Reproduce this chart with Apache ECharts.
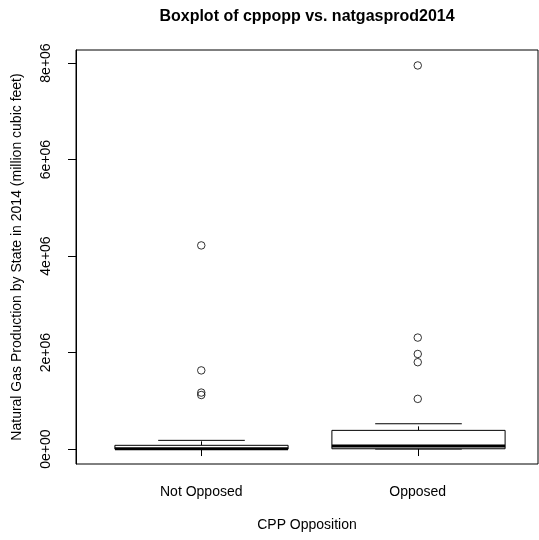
<!DOCTYPE html>
<html>
<head>
<meta charset="utf-8">
<script src="https://cdn.jsdelivr.net/npm/echarts@6/dist/echarts.min.js"></script>
<style>
    html, body { margin: 0; padding: 0; background: #fff; }
    #chart { width: 539px; height: 540px; }
</style>
</head>
<body>
<div id="chart"></div>
<script>
    // groups on the x axis
    const categories = ['Not Opposed', 'Opposed'];
    // [min, Q1, median, Q3, max] per group
    const boxStats = [
        [0, 1000, 5000, 77000, 180000],
        [0, 6000, 62000, 387000, 524000]
    ];
    // points beyond the whiskers
    const outliersNotOpposed = [4220000, 1630000, 1170000, 1120000];
    const outliersOpposed = [7950000, 2310000, 1970000, 1800000, 1040000];
    const yTicks = [0, 2000000, 4000000, 6000000, 8000000];

    const font = 'Liberation Sans, Arial, sans-serif';

    function sciLabel(v) {
        if (v === 0) return '0e+00';
        const e = Math.floor(Math.log10(Math.abs(v)));
        const m = Math.round(v / Math.pow(10, e) * 100) / 100;
        return m + 'e+' + String(e).padStart(2, '0');
    }

    const boxData = boxStats.map((s, i) => [i].concat(s));
    const outlierData = [];
    outliersNotOpposed.forEach(v => outlierData.push([0, v]));
    outliersOpposed.forEach(v => outlierData.push([1, v]));

    // R style box: dashed whiskers, half-width staples, thick median
    function renderBox(params, api) {
        const i = api.value(0);
        const bw = api.size([1, 0])[0];
        const half = bw * 0.4, cap = bw * 0.2;
        const p = k => api.coord([i, api.value(k)]);
        const lo = p(1), q1 = p(2), med = p(3), q3 = p(4), hi = p(5);
        const x = Math.round(lo[0]) + 0.5;
        const line = (x1, y1, x2, y2, w, dash) => ({
            type: 'line',
            shape: { x1: x1, y1: y1, x2: x2, y2: y2 },
            style: { stroke: '#000', lineWidth: w, lineDash: dash || null }
        });
        return {
            type: 'group',
            children: [
                line(x, q3[1], x, hi[1], 1, [4, 3]),
                line(x, q1[1], x, lo[1], 1, [4, 3]),
                line(x - cap, hi[1], x + cap, hi[1], 1),
                line(x - cap, lo[1], x + cap, lo[1], 1),
                {
                    type: 'rect',
                    shape: { x: x - half, y: q3[1], width: half * 2, height: q1[1] - q3[1] },
                    style: { fill: '#fff', stroke: '#000', lineWidth: 1 }
                },
                line(x - half, med[1], x + half, med[1], 3)
            ]
        };
    }

    const yMin = -310000, yMax = 8270000;

    const myChart = echarts.init(document.getElementById('chart'));
    myChart.setOption({
        backgroundColor: '#fff',
        animation: false,
        title: {
            text: 'Boxplot of cppopp vs. natgasprod2014',
            left: 307,
            top: 9,
            padding: 0,
            textAlign: 'center',
            textStyle: { fontFamily: font, fontSize: 16, fontWeight: 'bold', color: '#000' }
        },
        grid: [
            { left: 76, right: 1, top: 50, bottom: 76, show: true, borderColor: '#000', borderWidth: 1, backgroundColor: 'transparent' },
            { left: 93, right: 13, top: 50, bottom: 76 }
        ],
        xAxis: [
            {
                gridIndex: 0,
                type: 'value',
                min: 0,
                max: 1,
                axisLine: { show: false },
                axisTick: { show: false },
                axisLabel: { show: false },
                splitLine: { show: false },
                name: 'CPP Opposition',
                nameLocation: 'middle',
                nameGap: 54,
                nameTextStyle: { fontFamily: font, fontSize: 14, color: '#000' }
            },
            {
                gridIndex: 1,
                type: 'category',
                data: categories,
                axisLine: { show: false },
                axisTick: { show: true, alignWithLabel: true, length: 7, lineStyle: { color: '#000' } },
                axisLabel: { margin: 21, fontFamily: font, fontSize: 14, color: '#000' },
                splitLine: { show: false }
            }
        ],
        yAxis: [
            {
                gridIndex: 0,
                type: 'value',
                min: yMin,
                max: yMax,
                axisLine: { show: true, lineStyle: { color: '#000' } },
                axisTick: { show: true, length: 8, customValues: yTicks, lineStyle: { color: '#000' } },
                axisLabel: {
                    customValues: yTicks,
                    rotate: 90,
                    margin: 23,
                    fontFamily: font,
                    fontSize: 14,
                    color: '#000',
                    formatter: sciLabel
                },
                splitLine: { show: false },
                name: 'Natural Gas Production by State in 2014 (million cubic feet)',
                nameLocation: 'middle',
                nameGap: 52,
                nameRotate: 90,
                nameTextStyle: { fontFamily: font, fontSize: 14, color: '#000' }
            },
            {
                gridIndex: 1,
                type: 'value',
                min: yMin,
                max: yMax,
                show: false
            }
        ],
        series: [
            {
                type: 'custom',
                xAxisIndex: 1,
                yAxisIndex: 1,
                renderItem: renderBox,
                encode: { x: 0, y: [1, 2, 3, 4, 5] },
                data: boxData,
                z: 2
            },
            {
                type: 'scatter',
                xAxisIndex: 1,
                yAxisIndex: 1,
                symbol: 'circle',
                symbolSize: 7.5,
                itemStyle: { color: 'none', borderColor: '#000', borderWidth: 1 },
                data: outlierData,
                z: 3
            }
        ]
    });
</script>
</body>
</html>
